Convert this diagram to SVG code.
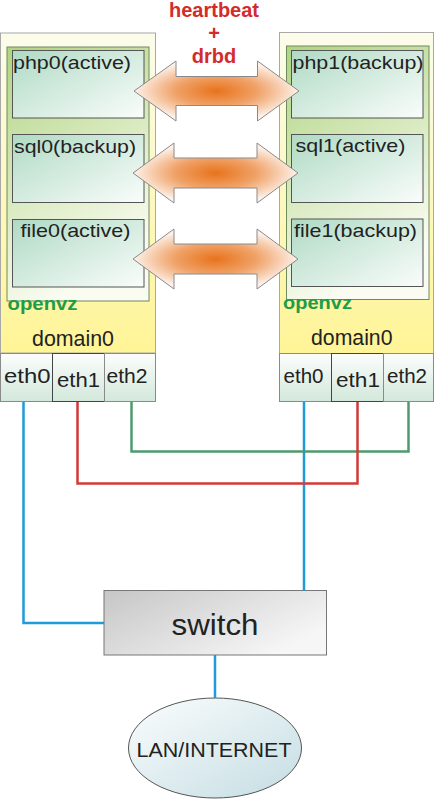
<svg xmlns="http://www.w3.org/2000/svg" width="434" height="800" viewBox="0 0 434 800">
<defs>
<linearGradient id="gHost" x1="0" y1="0" x2="0" y2="1">
<stop offset="0" stop-color="#fcfcec"/><stop offset="1" stop-color="#fff496"/>
</linearGradient>
<linearGradient id="gVz" x1="0" y1="0" x2="0.35" y2="1">
<stop offset="0" stop-color="#b0d482"/><stop offset="1" stop-color="#fafcf2"/>
</linearGradient>
<linearGradient id="gVm" x1="0" y1="0" x2="1" y2="1">
<stop offset="0" stop-color="#afdac4"/><stop offset="1" stop-color="#fafdfb"/>
</linearGradient>
<linearGradient id="gEth" x1="0" y1="0" x2="0" y2="1">
<stop offset="0" stop-color="#fbfdfc"/><stop offset="1" stop-color="#d3e8db"/>
</linearGradient>
<linearGradient id="gSw" x1="0" y1="0" x2="1" y2="0.6">
<stop offset="0" stop-color="#c6c6c6"/><stop offset="1" stop-color="#f6f6f6"/>
</linearGradient>
<linearGradient id="gLan" x1="0" y1="0" x2="1" y2="1">
<stop offset="0" stop-color="#fbfdfd"/><stop offset="1" stop-color="#c4dde3"/>
</linearGradient>
<radialGradient id="gArr" cx="0.5" cy="0.5" r="0.5">
<stop offset="0" stop-color="#e8731b"/><stop offset="0.5" stop-color="#f0a268"/><stop offset="1" stop-color="#fdf2ea"/>
</radialGradient>
</defs>
<style>
.t{font-family:"Liberation Sans",Arial,sans-serif;fill:#222}
.vm{font-size:19px}
.eth{font-size:20px}
.dom{font-size:22px}
.vz{font-family:"Liberation Sans",Arial,sans-serif;font-weight:bold;font-size:19px;fill:#1f9c4a}
.hb{font-family:"Liberation Sans",Arial,sans-serif;font-weight:bold;font-size:20px;fill:#d42b2b}
.host{fill:url(#gHost);stroke:#a8a8a8;stroke-width:1}
.vzbox{fill:url(#gVz);stroke:#6f8a5c;stroke-width:1}
.vmbox{fill:url(#gVm);stroke:#555;stroke-width:1}
.ethbox{fill:url(#gEth);stroke:#8a8a8a;stroke-width:1}
.ethbox2{fill:url(#gEth);stroke:#444;stroke-width:1}
.arr{fill:url(#gArr);stroke:#8a8a8a;stroke-width:1}
.w{fill:none;stroke-width:2.5}
</style>

<g id="domain0-left">
<rect class="host" x="0.5" y="33" width="155" height="320"/>
<text class="t dom" x="32" y="346" textLength="82" lengthAdjust="spacingAndGlyphs">domain0</text>
</g>
<g id="openvz-left">
<rect class="vzbox" x="7" y="47" width="142" height="254"/>
<text class="vz" x="7.5" y="310" textLength="70" lengthAdjust="spacingAndGlyphs">openvz</text>
</g>
<g id="php0"><rect class="vmbox" x="12.5" y="50.5" width="131.5" height="67.5"/>
<text class="t vm" x="13" y="68.5" textLength="118" lengthAdjust="spacingAndGlyphs">php0(active)</text></g>
<g id="sql0"><rect class="vmbox" x="12.5" y="134.5" width="131.5" height="68"/>
<text class="t vm" x="14" y="153" textLength="122" lengthAdjust="spacingAndGlyphs">sql0(backup)</text></g>
<g id="file0"><rect class="vmbox" x="12.5" y="219.5" width="131.5" height="67.5"/>
<text class="t vm" x="20.5" y="237" textLength="110" lengthAdjust="spacingAndGlyphs">file0(active)</text></g>
<g id="eth0-left"><rect class="ethbox" x="0.5" y="353.5" width="52" height="48"/>
<text class="t eth" x="4" y="383" textLength="46.5" lengthAdjust="spacingAndGlyphs">eth0</text></g>
<g id="eth1-left"><rect class="ethbox2" x="52.5" y="353.5" width="52" height="48"/>
<text class="t eth" x="57" y="387" textLength="43" lengthAdjust="spacingAndGlyphs">eth1</text></g>
<g id="eth2-left"><rect class="ethbox" x="104.5" y="353.5" width="51" height="48"/>
<text class="t eth" x="106.5" y="383" textLength="41" lengthAdjust="spacingAndGlyphs">eth2</text></g>

<g id="domain0-right">
<rect class="host" x="279.5" y="32.5" width="154" height="321"/>
<text class="t dom" x="311" y="345" textLength="81.5" lengthAdjust="spacingAndGlyphs">domain0</text>
</g>
<g id="openvz-right">
<rect class="vzbox" x="286.5" y="46" width="142.5" height="253.5"/>
<text class="vz" x="283" y="308.5" textLength="69" lengthAdjust="spacingAndGlyphs">openvz</text>
</g>
<g id="php1"><rect class="vmbox" x="291.5" y="50.5" width="131.5" height="67.5"/>
<text class="t vm" x="292.5" y="68.5" textLength="131" lengthAdjust="spacingAndGlyphs">php1(backup)</text></g>
<g id="sql1"><rect class="vmbox" x="291.5" y="134.5" width="131.5" height="68"/>
<text class="t vm" x="295.5" y="152" textLength="110" lengthAdjust="spacingAndGlyphs">sql1(active)</text></g>
<g id="file1"><rect class="vmbox" x="291.5" y="219" width="131.5" height="67.5"/>
<text class="t vm" x="294" y="237" textLength="123" lengthAdjust="spacingAndGlyphs">file1(backup)</text></g>
<g id="eth0-right"><rect class="ethbox" x="279.5" y="353.5" width="52" height="48"/>
<text class="t eth" x="283.5" y="383" textLength="40" lengthAdjust="spacingAndGlyphs">eth0</text></g>
<g id="eth1-right"><rect class="ethbox2" x="331.5" y="353.5" width="52" height="48"/>
<text class="t eth" x="336" y="387" textLength="44" lengthAdjust="spacingAndGlyphs">eth1</text></g>
<g id="eth2-right"><rect class="ethbox" x="383.5" y="353.5" width="50" height="48"/>
<text class="t eth" x="387" y="383" textLength="40" lengthAdjust="spacingAndGlyphs">eth2</text></g>

<g id="switch">
<rect x="104" y="590.5" width="222.5" height="64.5" fill="url(#gSw)" stroke="#777" stroke-width="1"/>
<text class="t" x="215" y="635" font-size="30" text-anchor="middle" textLength="87" lengthAdjust="spacingAndGlyphs">switch</text>
</g>
<g id="lan">
<ellipse cx="215" cy="748" rx="86.5" ry="50" fill="url(#gLan)" stroke="#555" stroke-width="1"/>
<text class="t" x="214" y="756.5" font-size="21" text-anchor="middle" textLength="155" lengthAdjust="spacingAndGlyphs">LAN/INTERNET</text>
</g>

<g id="connectors">
<polyline class="w" stroke="#1e9bd9" points="23.5,402 23.5,623 104,623"/>
<polyline class="w" stroke="#1e9bd9" points="304,402 304,590.5"/>
<polyline class="w" stroke="#1e9bd9" points="215,655 215,698"/>
<polyline class="w" stroke="#4d9a6f" points="131.5,402 131.5,451.5 408.5,451.5 408.5,402"/>
<polyline class="w" stroke="#d23a38" points="77.5,402 77.5,483.5 357.5,483.5 357.5,402"/>
<polygon class="arr" points="134,91 176,61 176,76.5 257.5,76.5 257.5,61 299,91 257.5,121 257.5,105.5 176,105.5 176,121"/>
<polygon class="arr" points="133,173 174,143 174,158 257,158 257,143 298,173 257,203 257,188 174,188 174,203"/>
<polygon class="arr" points="133,259 174,229 174,244 257,244 257,229 298,259 257,289 257,274 174,274 174,289"/>
<text class="hb" x="214" y="17" text-anchor="middle">heartbeat</text>
<text class="hb" x="214" y="40" text-anchor="middle">+</text>
<text class="hb" x="214" y="63" text-anchor="middle">drbd</text>
</g>
</svg>
